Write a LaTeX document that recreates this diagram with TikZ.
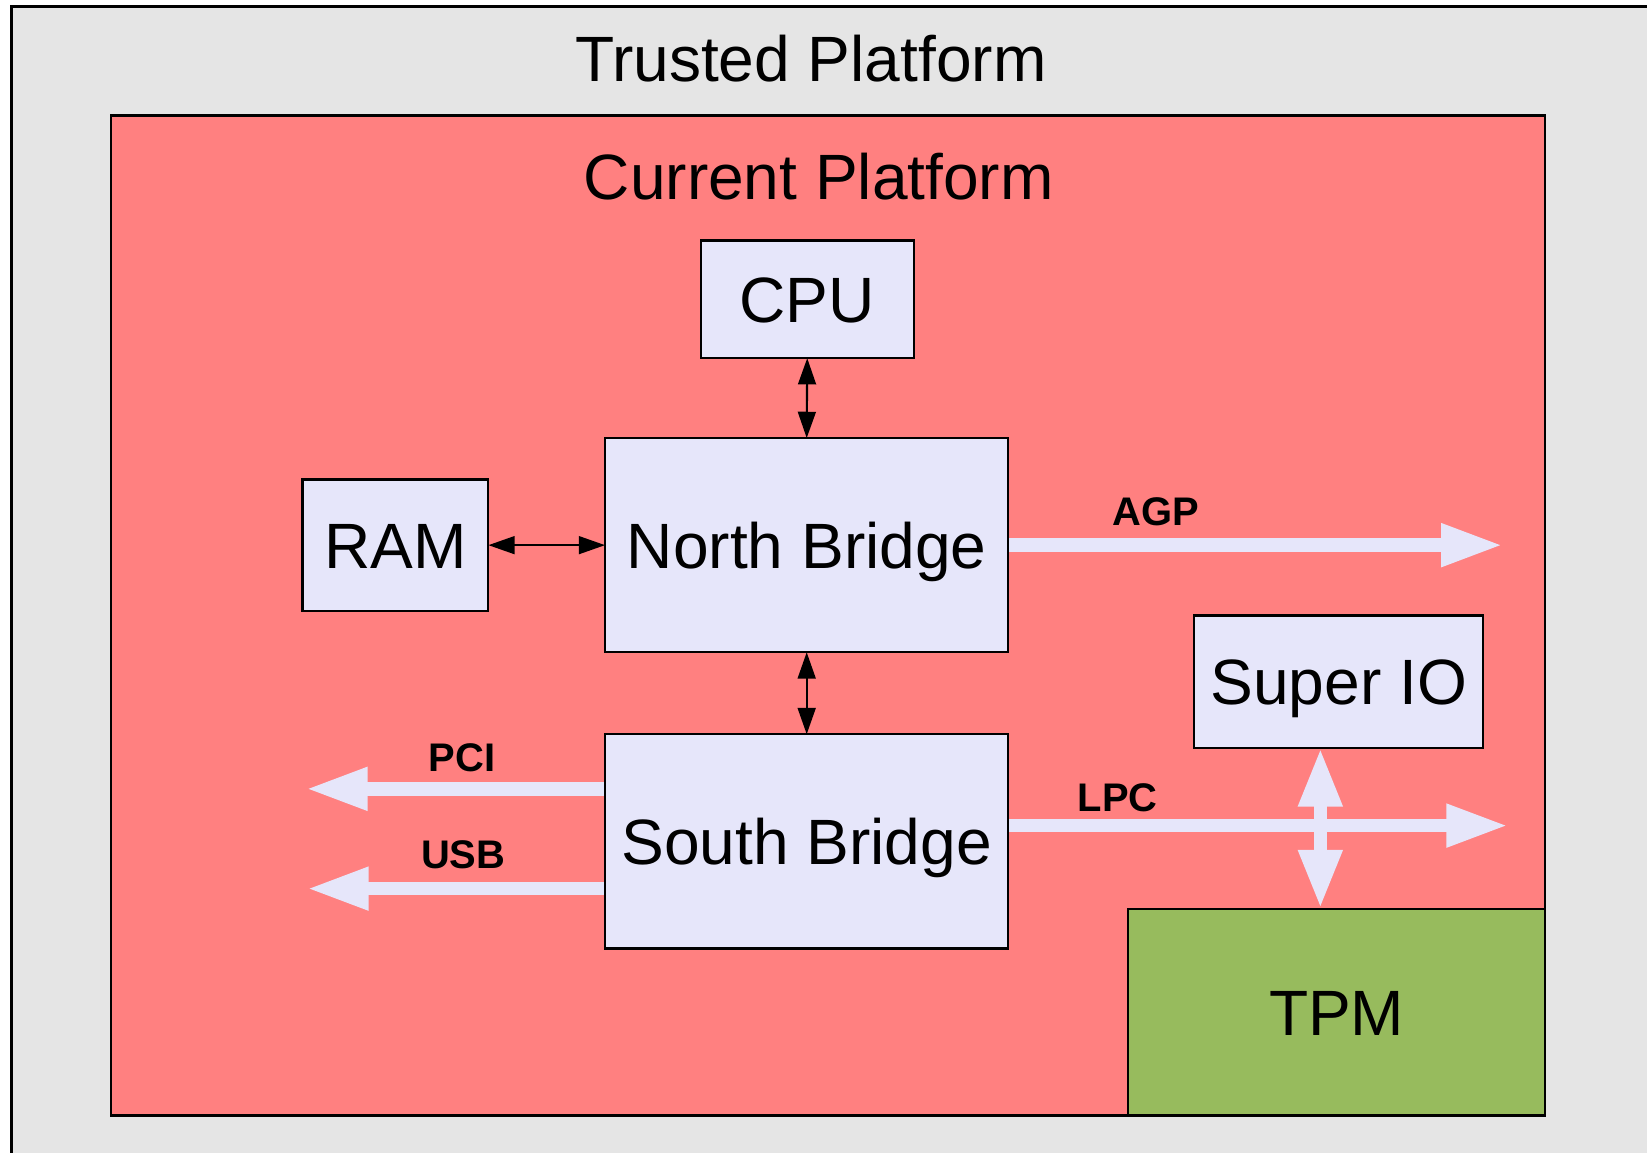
\documentclass[tikz,border=0pt]{standalone}
\usepackage{fontspec}
\setmainfont{Liberation Sans}
\usetikzlibrary{arrows.meta,calc}
\definecolor{outergray}{HTML}{E5E5E5}
\definecolor{platred}{HTML}{FF8080}
\definecolor{boxlav}{HTML}{E6E6FA}
\definecolor{tpmgreen}{HTML}{97BB5D}
\begin{document}
\begin{tikzpicture}[x=1pt,y=-1pt,
  bigtext/.style={font=\fontsize{61}{61}\selectfont, text height=43.7pt, text depth=0pt, inner sep=0pt},
  compbox/.style={bigtext, draw=black, fill=boxlav, line width=2pt, outer sep=0pt},
  container/.style={draw=black, outer sep=0pt, inner sep=0pt, anchor=north west},
  thinarrow/.style={draw=black, line width=2pt, {Triangle[length=25pt,width=17pt]}-{Triangle[length=25pt,width=17pt]}},
  busarrow/.style={draw=boxlav, line width=13pt, -{Triangle[length=59pt,width=38pt]}},
  busdouble/.style={draw=boxlav, line width=13pt, {Triangle[length=56pt,width=39pt]}-{Triangle[length=56pt,width=39pt]}},
  buslabel/.style={font=\bfseries\fontsize{38}{38}\selectfont, text height=27.2pt, text depth=0pt, inner sep=0pt}
]
\useasboundingbox (0,0) rectangle (1568,1097);
\clip (0,0) rectangle (1568,1097);
\fill[white] (0,0) rectangle (1568,1097);

% containers
\node[container, fill=outergray, line width=2.5pt, minimum width=1600pt, minimum height=1120pt] (trusted) at (11,6) {};
\node[bigtext] (trustedlbl) at (772,56) {Trusted Platform};
\node[container, fill=platred, line width=2pt, minimum width=1365pt, minimum height=952pt] (current) at (106,110) {};
\node[bigtext] (currentlbl) at (779.5,168) {Current Platform};

% components
\node[compbox, minimum width=203pt, minimum height=112pt] (cpu) at (768.5,285) {CPU};
\node[compbox, minimum width=384pt, minimum height=204pt] (nb) at (768,519) {North Bridge};
\node[compbox, minimum width=177pt, minimum height=125pt] (ram) at (376.5,519) {RAM};
\node[compbox, minimum width=384pt, minimum height=204pt] (sb) at (768,801) {South Bridge};
\node[compbox, minimum width=275pt, minimum height=126pt] (sio) at (1274.5,649) {Super IO};
\node[compbox, fill=tpmgreen, minimum width=397pt, minimum height=197pt] (tpm) at (1272.5,963.5) {TPM};

% free ends
\coordinate (agp) at (1431,519);
\coordinate (lpc) at (1436,786);
\coordinate (pci) at (291,751);
\coordinate (usb) at (292,846);
\coordinate (siox) at (1257,0);

% black connectors
\draw[thinarrow] (cpu.south) -- (nb.north);
\draw[thinarrow] (ram.east) -- (nb.west);
\draw[thinarrow] (nb.south) -- (sb.north);

% buses
\draw[busarrow, shorten <=1pt] (nb.east) -- (agp);
\draw[busarrow, shorten <=1pt] (sb.east |- lpc) -- (lpc);
\draw[busarrow, shorten <=1pt] (sb.west |- pci) -- (pci);
\draw[busarrow, shorten <=1pt] (sb.west |- usb) -- (usb);
\draw[busdouble] (sio.south -| siox) -- (tpm.north -| siox);

% bus labels
\node[buslabel] (agplbl) at (1100,487) {AGP};
\node[buslabel] (lpclbl) at (1064,759) {LPC};
\node[buslabel] (pcilbl) at (440,721) {PCI};
\node[buslabel] (usblbl) at (441,813) {USB};
\end{tikzpicture}
\end{document}
